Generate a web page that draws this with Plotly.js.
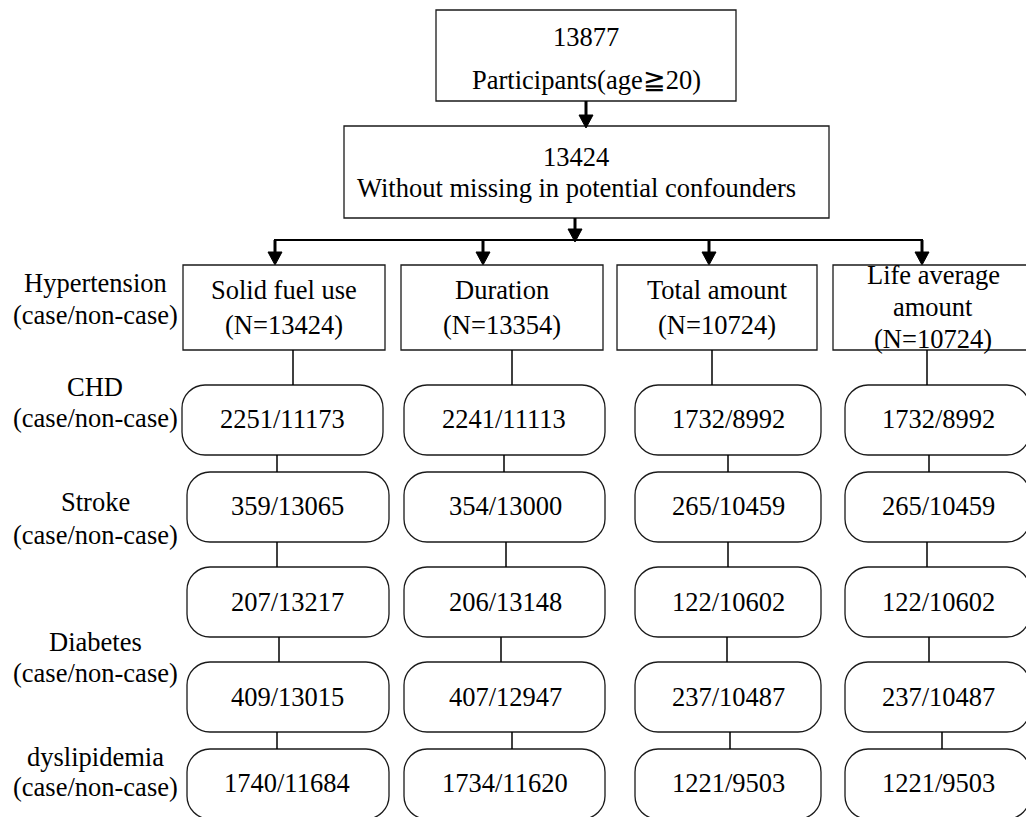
<!DOCTYPE html>
<html>
<head>
<meta charset="utf-8">
<script src="https://cdn.plot.ly/plotly-3.0.1.min.js"></script>
<style>html,body{margin:0;padding:0;background:#fff;}#chart{width:1026px;height:817px;}</style>
</head>
<body>
<div id="chart"></div>
<script>
// ---- data ----
const topCounts = ['13877', '13424'];
const topLabels = ['Participants(age\u226720)', 'Without missing in potential confounders'];
const exposureNames = [['Solid fuel use'], ['Duration'], ['Total amount'], ['Life average', 'amount']];
const exposureN = [13424, 13354, 10724, 10724];
const outcomeNames = ['Hypertension', 'CHD', 'Stroke', 'Diabetes', 'dyslipidemia'];
const outcomeSub = '(case/non-case)';
const cases = [
  [2251, 2241, 1732, 1732],
  [359, 354, 265, 265],
  [207, 206, 122, 122],
  [409, 407, 237, 237],
  [1740, 1734, 1221, 1221]
];
const nonCases = [
  [11173, 11113, 8992, 8992],
  [13065, 13000, 10459, 10459],
  [13217, 13148, 10602, 10602],
  [13015, 12947, 10487, 10487],
  [11684, 11620, 9503, 9503]
];

// ---- layout geometry (pixels in a 1026x817 frame) ----
const FONT = {family: '"Liberation Serif", "Times New Roman", serif', size: 26.5, color: '#000'};
const LINE = {color: '#1a1a1a', width: 1.3};
const topBoxes = [{x0: 436, x1: 736, y0: 10, y1: 101, cx: 586, ly: [37, 80]},
                  {x0: 344, x1: 829, y0: 126, y1: 218, cx: 576, ly: [157, 188]}];
const expBoxes = [[183, 385], [401, 603], [617, 817], [833, 1033]];
const expY = [265, 350];
const expCx = [284, 502, 717, 933];
const expLineY = [[290, 325], [290, 325], [290, 325], [275, 307, 339]];
const arrowXs = [275, 483, 709, 922];
const rowY = [[385, 455], [472, 542], [567, 637], [662, 732], [749, 819]];
const rowBoxX = [
  [[182, 383], [404, 605], [635, 821], [845, 1030]],
  [[187, 389], [404, 605], [635, 821], [845, 1030]],
  [[187, 389], [404, 605], [635, 821], [845, 1030]],
  [[187, 389], [404, 605], [635, 821], [845, 1030]],
  [[187, 389], [404, 605], [635, 821], [845, 1030]]
];
const rowTextX = [[282, 504, 728, 938], [287, 505, 728, 938], [287, 505, 728, 938], [287, 505, 728, 938], [287, 505, 728, 938]];
const rowTextY = [419, 506, 602, 697, 783];
const connX = [[293, 512, 712, 927], [277, 504, 728, 929], [277, 506, 728, 927], [279, 501, 727, 929], [277, 512, 730, 942]];
const connY = [[350, 385], [455, 472], [542, 567], [637, 662], [732, 749]];
const labelX = 95;
const labelY = [[283, 315], [387, 418], [502, 535], [642, 673], [757, 787]];
const R = 23;

const shapes = [];
const annotations = [];
function rect(x0, y0, x1, y1) {
  shapes.push({type: 'rect', xref: 'x', yref: 'y', x0, x1, y0, y1, line: LINE, fillcolor: 'rgba(0,0,0,0)'});
}
function rrect(x0, y0, x1, y1, r) {
  const k = r * 0.5523;
  const p = `M${x0 + r},${y0} L${x1 - r},${y0} C${x1 - r + k},${y0} ${x1},${y0 + r - k} ${x1},${y0 + r} ` +
    `L${x1},${y1 - r} C${x1},${y1 - r + k} ${x1 - r + k},${y1} ${x1 - r},${y1} ` +
    `L${x0 + r},${y1} C${x0 + r - k},${y1} ${x0},${y1 - r + k} ${x0},${y1 - r} ` +
    `L${x0},${y0 + r} C${x0},${y0 + r - k} ${x0 + r - k},${y0} ${x0 + r},${y0} Z`;
  shapes.push({type: 'path', xref: 'x', yref: 'y', path: p, line: LINE});
}
function seg(x0, y0, x1, y1, w) {
  shapes.push({type: 'line', xref: 'x', yref: 'y', x0, y0, x1, y1, line: {color: '#000', width: w}});
}
function arrow(x, y0, y1) {
  const hh = 13, hw = 7;
  seg(x, y0, x, y1 - hh + 1, 3);
  shapes.push({type: 'path', xref: 'x', yref: 'y', path: `M${x - hw},${y1 - hh} L${x + hw},${y1 - hh} L${x},${y1} Z`, fillcolor: '#000', line: {color: '#000', width: 1}});
}
function text(x, y, t) {
  annotations.push({xref: 'x', yref: 'y', x, y, text: t, showarrow: false, xanchor: 'center', yanchor: 'middle', font: FONT});
}

// top boxes
topBoxes.forEach((b, i) => {
  rect(b.x0, b.y0, b.x1, b.y1);
  text(b.cx, b.ly[0], topCounts[i]);
  text(b.cx, b.ly[1], topLabels[i]);
});
arrow(586, 101, 128);
arrow(575, 218, 242);
seg(arrowXs[0] - 1, 240, arrowXs[3] + 1, 240, 2.2);
arrowXs.forEach(x => arrow(x, 240, 265));

// exposure boxes
expBoxes.forEach((b, j) => {
  rect(b[0], expY[0], b[1], expY[1]);
  const lines = exposureNames[j].concat([`(N=${exposureN[j]})`]);
  lines.forEach((t, k) => text(expCx[j], expLineY[j][k], t));
});

// outcome rows
cases.forEach((row, i) => {
  row.forEach((c, j) => {
    const bx = rowBoxX[i][j];
    rrect(bx[0], rowY[i][0], bx[1], rowY[i][1], R);
    text(rowTextX[i][j], rowTextY[i], `${c}/${nonCases[i][j]}`);
    seg(connX[i][j], connY[i][0], connX[i][j], connY[i][1], 1.5);
  });
});

// row labels
outcomeNames.forEach((n, i) => {
  text(labelX, labelY[i][0], n);
  text(labelX, labelY[i][1], outcomeSub);
});

const layout = {
  width: 1026, height: 817,
  margin: {l: 0, r: 0, t: 0, b: 0, pad: 0},
  paper_bgcolor: '#fff', plot_bgcolor: '#fff',
  xaxis: {range: [0, 1026], visible: false, fixedrange: true},
  yaxis: {range: [817, 0], visible: false, fixedrange: true},
  showlegend: false,
  shapes, annotations
};
Plotly.newPlot('chart', [], layout, {staticPlot: true, displayModeBar: false});
</script>
</body>
</html>
